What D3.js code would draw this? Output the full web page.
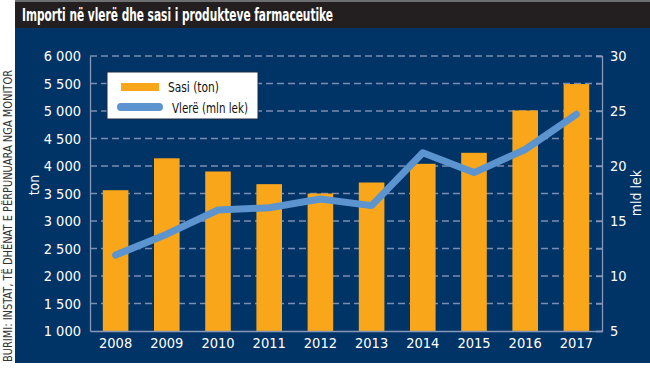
<!DOCTYPE html>
<html>
<head>
<meta charset="utf-8">
<script src="https://cdn.jsdelivr.net/npm/d3@7"></script>
<style>
  body { margin: 0; background: #fff; }
  text { font-family: "Liberation Sans Narrow", "DejaVu Sans Condensed", "Roboto", sans-serif; }
</style>
</head>
<body>
<div id="chart"></div>
<script>
// data
const years = ["2008", "2009", "2010", "2011", "2012", "2013", "2014", "2015", "2016", "2017"];
const sasi = [3560, 4140, 3900, 3670, 3500, 3700, 4040, 4240, 5010, 5490];   // ton
const vlere = [11.9, 13.8, 16.0, 16.2, 17.0, 16.4, 21.2, 19.4, 21.5, 24.7];  // mld lek
const leftTicks = d3.range(1000, 6001, 500);
const rightTicks = d3.range(5, 30.1, 2.5);

const width = 650, height = 375;
const plot = {left: 90, right: 602, top: 56, bottom: 331};

const svg = d3.select("#chart")
              .append("svg")
                .attr("width", width)
                .attr("height", height);

// background panels
svg.append("rect").attr("x", 15).attr("y", 0).attr("width", width - 15).attr("height", 363).attr("fill", "#003366");
svg.append("rect").attr("x", 15).attr("y", 0).attr("width", width - 15).attr("height", 28).attr("fill", "#231f20");
svg.append("rect").attr("x", 15).attr("y", 0).attr("width", width - 15).attr("height", 2).attr("fill", "#6d6e70");

svg.append("text")
  .attr("x", 22).attr("y", 21)
  .attr("fill", "#fff")
  .attr("font-size", 18).attr("font-weight", "bold")
  .attr("textLength", 311).attr("lengthAdjust", "spacingAndGlyphs")
  .text("Importi në vlerë dhe sasi i produkteve farmaceutike");

// source, vertical on the white strip
svg.append("text")
  .attr("transform", "translate(12,362) rotate(-90)")
  .attr("fill", "#333")
  .attr("font-size", 12.5)
  .attr("textLength", 292).attr("lengthAdjust", "spacingAndGlyphs")
  .text("BURIMI: INSTAT, TË DHËNAT E PËRPUNUARA NGA MONITOR");

const x = d3.scaleBand()
            .domain(years)
            .range([plot.left, plot.right])
            .paddingInner(0.5)
            .paddingOuter(0.25);

const y = d3.scaleLinear().domain([1000, 6000]).range([plot.bottom, plot.top]);
const y2 = d3.scaleLinear().domain([5, 30]).range([plot.bottom, plot.top]);

// dashed grid
svg.append("g")
  .selectAll("line")
  .data(leftTicks.slice(1))
  .join("line")
    .attr("x1", plot.left).attr("x2", plot.right)
    .attr("y1", d => y(d)).attr("y2", d => y(d))
    .attr("stroke", "#7b8db0")
    .attr("stroke-width", 1.3)
    .attr("stroke-dasharray", "7,4");

// bars
svg.append("g")
  .selectAll("rect")
  .data(sasi)
  .join("rect")
    .attr("x", (d, i) => x(years[i]))
    .attr("y", d => y(d))
    .attr("width", x.bandwidth())
    .attr("height", d => y(1000) - y(d))
    .attr("fill", "#f9a61b");

// left axis
const yAxis = svg.append("g")
  .attr("transform", `translate(${plot.left},0)`)
  .call(d3.axisLeft(y).tickValues(leftTicks).tickSize(0).tickPadding(9)
          .tickFormat(d => d3.format(",")(d).replace(",", " ")));
yAxis.select(".domain").attr("stroke", "#8797b8").attr("stroke-width", 1.3);
yAxis.selectAll("text").attr("fill", "#fff").attr("font-size", 14.5).style("font-family", "Liberation Sans Narrow, DejaVu Sans Condensed, sans-serif");

// right axis
const y2Axis = svg.append("g")
  .attr("transform", `translate(${plot.right},0)`)
  .call(d3.axisRight(y2).tickValues(rightTicks).tickSize(-6).tickPadding(8)
          .tickFormat(d => d % 5 === 0 ? d : ""));
y2Axis.select(".domain").attr("stroke", "#8797b8").attr("stroke-width", 1.3);
y2Axis.selectAll(".tick line").attr("stroke", "#8797b8").attr("stroke-width", 1.3);
y2Axis.selectAll("text").attr("fill", "#fff").attr("font-size", 14.5).attr("x", 8).style("font-family", "Liberation Sans Narrow, DejaVu Sans Condensed, sans-serif");

// bottom axis
const xAxis = svg.append("g")
  .attr("transform", `translate(0,${plot.bottom})`)
  .call(d3.axisBottom(x).tickSize(0).tickPadding(7));
xAxis.select(".domain").attr("stroke", "#8797b8").attr("stroke-width", 1.3);
xAxis.selectAll("text").attr("fill", "#fff").attr("font-size", 14.5).style("font-family", "Liberation Sans Narrow, DejaVu Sans Condensed, sans-serif");

// value line
const line = d3.line()
  .x((d, i) => x(years[i]) + x.bandwidth() / 2)
  .y(d => y2(d));

svg.append("path")
  .datum(vlere)
  .attr("d", line)
  .attr("fill", "none")
  .attr("stroke", "#5b94cf")
  .attr("stroke-width", 7)
  .attr("stroke-linecap", "round")
  .attr("stroke-linejoin", "round");

// axis titles
svg.append("text")
  .attr("transform", "translate(39,185) rotate(-90)")
  .attr("text-anchor", "middle")
  .attr("fill", "#fff").attr("font-size", 14)
  .text("ton");

svg.append("text")
  .attr("transform", "translate(641,193) rotate(-90)")
  .attr("text-anchor", "middle")
  .attr("fill", "#fff").attr("font-size", 14)
  .text("mld lek");

// legend
const legend = svg.append("g");
legend.append("rect")
  .attr("x", 107).attr("y", 72).attr("width", 151).attr("height", 47)
  .attr("fill", "#fff").attr("stroke", "#1a2a44").attr("stroke-width", 1);
legend.append("rect")
  .attr("x", 121).attr("y", 83).attr("width", 38).attr("height", 8)
  .attr("fill", "#f9a61b");
legend.append("line")
  .attr("x1", 121).attr("x2", 159).attr("y1", 107).attr("y2", 107)
  .attr("stroke", "#5b94cf").attr("stroke-width", 8).attr("stroke-linecap", "round");
legend.append("text")
  .attr("x", 168).attr("y", 92)
  .attr("fill", "#111").attr("font-size", 14)
  .attr("textLength", 51).attr("lengthAdjust", "spacingAndGlyphs")
  .text("Sasi (ton)");
legend.append("text")
  .attr("x", 172).attr("y", 113)
  .attr("fill", "#111").attr("font-size", 14)
  .attr("textLength", 76).attr("lengthAdjust", "spacingAndGlyphs")
  .text("Vlerë (mln lek)");
</script>
</body>
</html>
